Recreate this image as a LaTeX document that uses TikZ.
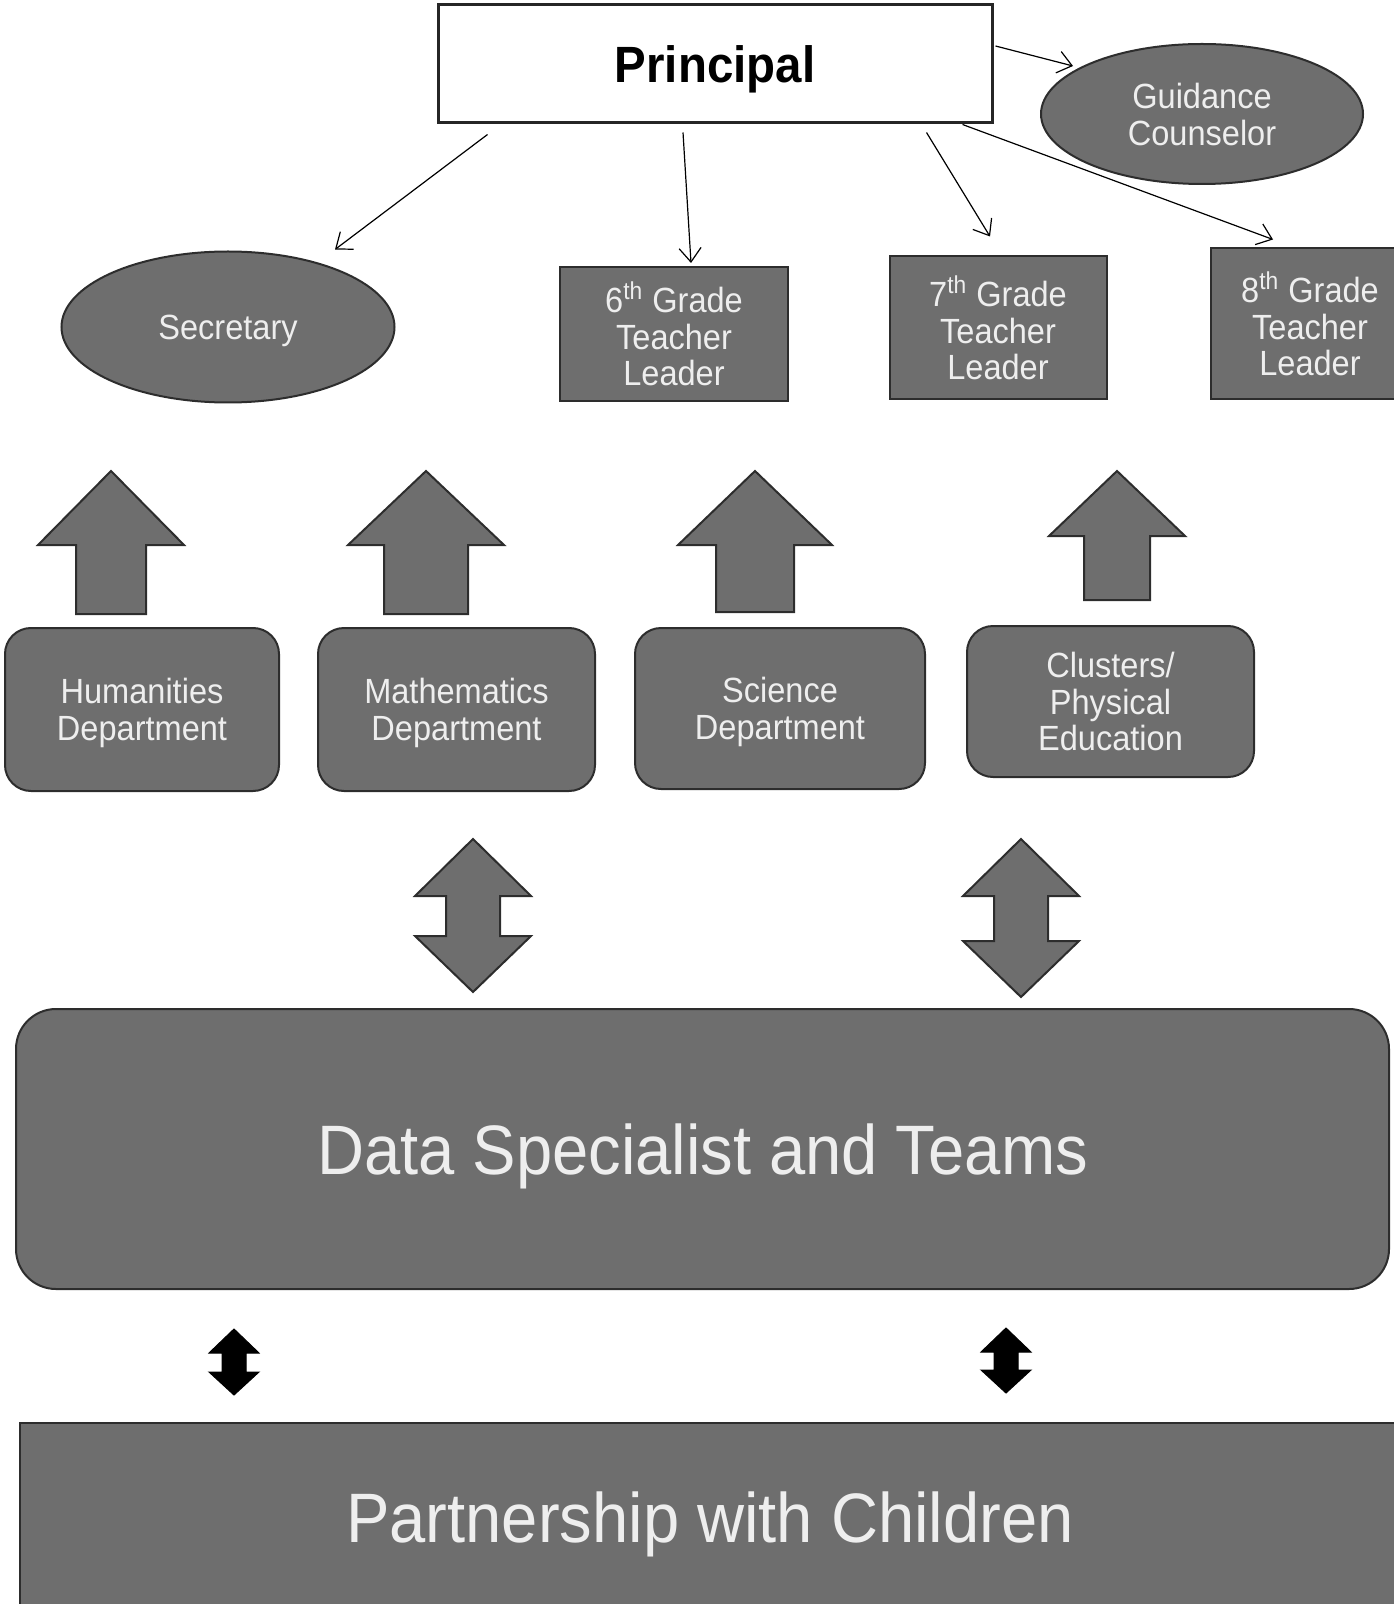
\documentclass[tikz,border=0pt]{standalone}
\usepackage{fontspec}
\setmainfont{Liberation Sans}[FakeStretch=0.93]
\usetikzlibrary{arrows.meta, calc, shapes.geometric}

\definecolor{boxgray}{RGB}{110,110,110}
\definecolor{edgegray}{RGB}{45,45,45}
\definecolor{txtgray}{RGB}{238,238,238}

\begin{document}
\begin{tikzpicture}[
    x=0.5pt, y=-0.5pt,
    gbox/.style={draw=edgegray, line width=1pt, fill=boxgray, text=txtgray, align=center,
                 inner sep=0pt, text depth=0pt, font=\fontsize{17.5}{18.4}\selectfont},
    leader/.style={gbox},
    dept/.style={gbox, rounded corners=13pt},
    oval/.style={gbox, ellipse},
    wide/.style={gbox, font=\fontsize{35}{40}\selectfont},
    link/.style={-{Straight Barb[length=7pt, width=11pt]}, line width=0.6pt},
    blockarr/.style={draw=edgegray, line width=1pt, fill=boxgray, line join=miter},
    blackarr/.style={fill=black, draw=black, line width=0.5pt}
]
\useasboundingbox (0,0) rectangle (1393,1604);

% ---- top: principal and staff ----
\node[draw=black!85, line width=1.5pt, fill=white, minimum width=277pt, minimum height=59pt,
      text depth=0pt, font=\fontsize{25.5}{30}\selectfont\bfseries] (principal) at (715,64) {Principal};
\node[oval, minimum width=161pt, minimum height=70pt] (guidance) at (1202,114) {Guidance\\Counselor};
\node[oval, minimum width=166.5pt, minimum height=75.5pt] (secretary) at (228,327) {Secretary};

\node[leader, minimum width=114pt, minimum height=67pt]   (sixth)   at (674,334)
    {6\textsuperscript{th} Grade\\Teacher\\Leader};
\node[leader, minimum width=108.5pt, minimum height=71.5pt] (seventh) at (998,328)
    {7\textsuperscript{th} Grade\\Teacher\\Leader};
\node[leader, minimum width=99pt, minimum height=75.5pt]  (eighth)  at (1310,324)
    {8\textsuperscript{th} Grade\\Teacher\\Leader};

\draw[link] ($(principal.south west)+(51,10)$) -- ($(secretary.north)+(107,-1)$);
\draw[link] ($(principal.south)+(-32,8)$) -- ($(sixth.north)+(17,-3)$);
\draw[link] ($(principal.south east)+(-67,8)$) -- ($(seventh.north)+(-8,-19)$);
\draw[link] ($(principal.south east)+(-31,0)$) -- ($(eighth.north)+(-37,-8)$);
\draw[link] ($(principal.east)+(2,-18)$) -- ($(guidance.west)+(33,-48)$);

% ---- departments ----
\node[dept, minimum width=137pt, minimum height=81.5pt]   (hum)  at (142,709.5)  {Humanities\\Department};
\node[dept, minimum width=138.5pt, minimum height=81.5pt] (math) at (456.5,709.5) {Mathematics\\Department};
\node[dept, minimum width=145pt, minimum height=80.5pt]   (sci)  at (780,708.5)  {Science\\Department};
\node[dept, minimum width=143.5pt, minimum height=75.5pt] (clus) at (1110.5,701.5) {Clusters/\\Physical\\Education};

% up arrows: centre / head half width / shaft half width / tip / head base / bottom
\foreach \cx/\hw/\sw/\tip/\hb/\bot in {111/73/35/471/545/614, 426/78/42/471/545/614,
                                       755/77/39/471/545/612, 1117/68/33/471/536/600}
    \draw[blockarr] (\cx-\sw,\bot) -- (\cx-\sw,\hb) -- (\cx-\hw,\hb) -- (\cx,\tip)
        -- (\cx+\hw,\hb) -- (\cx+\sw,\hb) -- (\cx+\sw,\bot) -- cycle;

% ---- data specialist ----
\node[wide, rounded corners=20pt, minimum width=686.5pt, minimum height=140pt]
    (data) at (702.5,1149) {Data Specialist and Teams};

% double arrows between departments and data team
\foreach \cx/\top/\bot in {473/839/992, 1021/839/997}
    \draw[blockarr] (\cx,\top) -- (\cx+58,\top+57) -- (\cx+27,\top+57) -- (\cx+27,\bot-56)
        -- (\cx+58,\bot-56) -- (\cx,\bot) -- (\cx-58,\bot-56) -- (\cx-27,\bot-56)
        -- (\cx-27,\top+57) -- (\cx-58,\top+57) -- cycle;

% ---- partnership ----
\node[wide, minimum width=690pt, minimum height=94.5pt]
    (partner) at (710,1517.5) {Partnership with Children};

% small black double arrows
\foreach \cx/\top/\bot in {234/1329/1395, 1006/1328/1393}
    \draw[blackarr] (\cx,\top) -- (\cx+25,\top+24) -- (\cx+12,\top+24) -- (\cx+12,\bot-23)
        -- (\cx+25,\bot-23) -- (\cx,\bot) -- (\cx-25,\bot-23) -- (\cx-12,\bot-23)
        -- (\cx-12,\top+24) -- (\cx-25,\top+24) -- cycle;

\end{tikzpicture}
\end{document}
